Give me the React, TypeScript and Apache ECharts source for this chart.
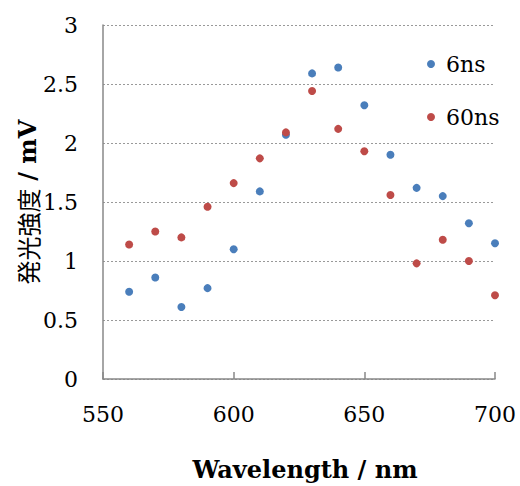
import React, { useEffect, useRef } from "react";
import * as echarts from "echarts";

const wavelengths = [560, 570, 580, 590, 600, 610, 620, 630, 640, 650, 660, 670, 680, 690, 700];
const series6ns = [0.74, 0.86, 0.61, 0.77, 1.1, 1.59, 2.07, 2.59, 2.64, 2.32, 1.9, 1.62, 1.55, 1.32, 1.15];
const series60ns = [1.14, 1.25, 1.2, 1.46, 1.66, 1.87, 2.09, 2.44, 2.12, 1.93, 1.56, 0.98, 1.18, 1.0, 0.71];
const seriesNames = ["6ns", "60ns"];
const xTitle = "Wavelength / nm";
const yTitleJa = "発光強度";
const yTitleUnit = "/ mV";

const FONT = "'DejaVu Serif', 'Noto Sans CJK JP', serif";

export default function App() {
  const ref = useRef<HTMLDivElement>(null);
  useEffect(() => {
    if (!ref.current) return;
    const chart = echarts.init(ref.current, undefined, { renderer: "svg" });
    chart.setOption({
      animation: false,
      backgroundColor: "#ffffff",
      grid: { left: 103, right: 25, top: 25, bottom: 107, containLabel: false },
      legend: {
        orient: "vertical",
        left: 422,
        top: 46,
        icon: "circle",
        itemWidth: 20,
        itemHeight: 8,
        itemGap: 27,
        textStyle: { fontFamily: FONT, fontSize: 22, color: "#000", lineHeight: 26 },
        data: seriesNames,
      },
      xAxis: {
        type: "value",
        min: 550,
        max: 700,
        interval: 50,
        name: xTitle,
        nameLocation: "middle",
        nameGap: 78,
        nameMoveOverlap: false,
        nameTextStyle: { fontFamily: FONT, fontSize: 24, fontWeight: "bold", color: "#000", padding: [0, 0, 0, 12] },
        axisLine: { show: true, lineStyle: { color: "#888", width: 1.5 } },
        axisTick: { show: true, inside: true, length: 7, lineStyle: { color: "#888", width: 1.5 } },
        axisLabel: { fontFamily: FONT, fontSize: 22, color: "#000", margin: 24 },
        splitLine: { show: false },
      },
      yAxis: {
        type: "value",
        min: 0,
        max: 3,
        interval: 0.5,
        name: "{a|" + yTitleJa + "} {b|" + yTitleUnit + "}",
        nameLocation: "middle",
        nameGap: 64,
        nameMoveOverlap: false,
        nameTextStyle: {
          fontFamily: FONT,
          fontSize: 24,
          color: "#000",
          rich: {
            a: { fontFamily: "'Noto Sans CJK JP', sans-serif", fontSize: 24, fontWeight: "normal", color: "#000" },
            b: { fontFamily: FONT, fontSize: 24, fontWeight: "bold", color: "#000" },
          },
        },
        axisLine: { show: true, lineStyle: { color: "#888", width: 1.5 } },
        axisTick: { show: false },
        axisLabel: { fontFamily: FONT, fontSize: 22, color: "#000", margin: 25 },
        splitLine: { show: true, lineStyle: { color: "#999", type: [2, 2], width: 1.2 } },
      },
      series: [
        {
          name: seriesNames[0],
          type: "scatter",
          symbol: "circle",
          symbolSize: 8,
          itemStyle: { color: "#4a7ebb", opacity: 1 },
          data: wavelengths.map((w, i) => [w, series6ns[i]]),
        },
        {
          name: seriesNames[1],
          type: "scatter",
          symbol: "circle",
          symbolSize: 8,
          itemStyle: { color: "#be4b48", opacity: 1 },
          data: wavelengths.map((w, i) => [w, series60ns[i]]),
        },
      ],
    });
    return () => chart.dispose();
  }, []);
  return <div ref={ref} style={{ width: 520, height: 486, position: "absolute", left: 0, top: 0 }} />;
}
